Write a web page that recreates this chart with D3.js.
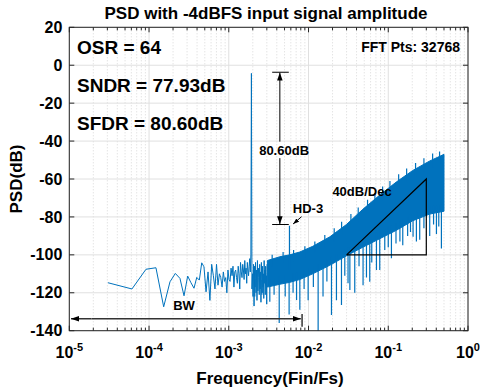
<!DOCTYPE html>
<html><head><meta charset="utf-8">
<script src="https://cdn.jsdelivr.net/npm/d3@7/dist/d3.min.js"></script>
<style>
body{margin:0;background:#fff}
text{font-family:"Liberation Sans",Arial,Helvetica,sans-serif;font-weight:bold;fill:#000}
</style>
</head><body>
<svg id="c" width="480" height="389"></svg>
<script>
// ---------------- data ----------------
const fftPts = 32768;
// PSD (dB) of FFT bins 1..99 (bin 63 = input tone)
const lowBinDb = [
 -114.7,-118,-107.6,-106.8,-127.4,-114.2,-109.8,-112.4,-121.6,-111.2,
 -114.7,-117.6,-111.9,-113.3,-104.2,-106.3,-119.5,
 -109,-124,-105,-111,-118,-105,-116,-110,-112,-117,-109,-114,-112,
 -120,-108,-113,-114,-107,-111,-106,-117,-109,-108,-112,-115,-106,-110,-118,
 -104,-109,-112,-105,-108,-113,-103,-110,-107,-115,-104,-108,-111,-106,-102,-109,-100,
 -4.3,
 -118,-110,-122,-105,-127,-106,-117,-104,-120,-108,-124,-103,-119,-107,-112,-121,-105,-118,-109,-125,
 -104,-113,-120,-106,-117,-110,-123,-103,-115,-108,-121,-106,-116,-111,-126,-105
];
// dense noise band above bin 100: frequency, upper and lower edge (dB)
const bandFreq   = [3.05e-3,4.37e-3,5.82e-3,7.77e-3,0.0113,0.0185,0.0299,0.0479,0.0781,0.127,0.203,0.331,0.5];
const bandTop    = [-103,-101,-100,-98.5,-95.5,-90.5,-84,-76,-68.5,-61.5,-55.5,-50.5,-47];
const bandBottom = [-117,-115.5,-114.5,-113,-110,-105.5,-100.5,-96,-91.5,-87,-82,-78.5,-77];
// downward spikes in the dense band
const dipFreq = [2.12e-3,2.60e-3,3.27e-3,3.7e-3,4.29e-3,5.1e-3,5.71e-3,6.4e-3,7.08e-3,7.78e-3,8.8e-3,9.89e-3,0.0115,0.0132,0.0152,0.017,0.0194,0.0224,0.0259,0.0285,0.0313,0.0330,0.0380,0.043,0.0483,0.0533,0.0586,0.0621,0.0711,0.0782,0.0904,0.1,0.1096,0.125,0.14,0.152,0.175,0.19,0.2047,0.2254,0.248,0.28,0.331,0.37,0.402,0.43,0.464];
const dipDb   = [-122,-121,-124.7,-121,-136,-122,-131.5,-120,-123.8,-129,-118,-124,-117,-142,-122,-114,-131.7,-124,-126.5,-111,-115,-118.6,-120,-106,-116,-112,-114.2,-104,-108,-108,-97.5,-96,-101.8,-94,-93,-95,-90,-88,-90.4,-93,-92,-86,-90,-84,-89,-85,-96.6];
// upward spikes on top of the band
const peakFreq = [3.5e-3,4.8e-3,6.5e-3,9.0e-3,0.012,0.016,0.021,0.026,0.034,0.042,0.055,0.068,0.085,0.105,0.135,0.17,0.22,0.28,0.36,0.44];
const peakDb   = [-100,-98.5,-97.5,-95.5,-93,-89.5,-86,-82.5,-78.5,-75,-71,-67.5,-64,-61,-57.5,-54.5,-51.5,-49,-46.5,-45.5];
// third harmonic
const hd3Bin = 189, hd3Db = -84.6;
// axes
const xDecades = [1e-5,1e-4,1e-3,1e-2,1e-1,1];
const xExpLabels = ["-5","-4","-3","-2","-1","0"];
const yTicks = [-140,-120,-100,-80,-60,-40,-20,0,20];

// ---------------- layout ----------------
const L=69.3, R=468, T=27.3, B=330.7;
const x = d3.scaleLog().domain([1e-5,1]).range([L,R]);
const y = d3.scaleLinear().domain([-140,20]).range([B,T]);
const svg = d3.select("#c");
const blue = "#0072BD";

const defs = svg.append("defs");
defs.append("clipPath").attr("id","clip").append("rect")
  .attr("x",L).attr("y",T).attr("width",R-L).attr("height",B-T);
function marker(id,size){
  defs.append("marker").attr("id",id).attr("viewBox","0 0 10 10")
    .attr("refX",10).attr("refY",5).attr("markerWidth",size).attr("markerHeight",size)
    .attr("markerUnits","userSpaceOnUse").attr("orient","auto")
    .append("path").attr("d","M0,1.5 L10,5 L0,8.5 Z").attr("fill","#000");
}
marker("ah",8); marker("ahs",6);

// minor values
const minors=[];
for(let e=-5;e<0;e++) for(let k=2;k<10;k++) minors.push(k*Math.pow(10,e));

// grid
const grid = svg.append("g");
grid.selectAll(".mg").data(minors).join("line")
  .attr("x1",d=>x(d)).attr("x2",d=>x(d)).attr("y1",T).attr("y2",B)
  .attr("stroke","#cfcfcf").attr("stroke-width",0.8).attr("stroke-dasharray","1,2");
grid.selectAll(".Mg").data(xDecades).join("line")
  .attr("x1",d=>x(d)).attr("x2",d=>x(d)).attr("y1",T).attr("y2",B)
  .attr("stroke","#e0e0e0").attr("stroke-width",1);
grid.selectAll(".yg").data(yTicks).join("line")
  .attr("x1",L).attr("x2",R).attr("y1",d=>y(d)).attr("y2",d=>y(d))
  .attr("stroke","#e0e0e0").attr("stroke-width",1);

// spectrum
const plot = svg.append("g").attr("clip-path","url(#clip)");
const lowPts = lowBinDb.map((d,i)=>[(i+1)/fftPts,d]);
plot.append("path").datum(lowPts)
  .attr("d",d3.line().x(d=>x(d[0])).y(d=>y(d[1])))
  .attr("fill","none").attr("stroke",blue).attr("stroke-width",1);
const band = bandFreq.map((f,i)=>({f,t:bandTop[i],b:bandBottom[i]}));
plot.append("path").datum(band)
  .attr("d",d3.area().x(d=>x(d.f)).y0(d=>y(d.b)).y1(d=>y(d.t)))
  .attr("fill",blue).attr("stroke",blue).attr("stroke-width",1);
const botAt = d3.scaleLog().domain(bandFreq).range(bandBottom).clamp(true);
const topAt = d3.scaleLog().domain(bandFreq).range(bandTop).clamp(true);
plot.selectAll(".dip").data(dipFreq).join("line")
  .attr("x1",d=>x(d)).attr("x2",d=>x(d))
  .attr("y1",d=>y(botAt(d)+4)).attr("y2",(d,i)=>y(dipDb[i]))
  .attr("stroke",blue).attr("stroke-width",1.2);
plot.selectAll(".pk").data(peakFreq).join("line")
  .attr("x1",d=>x(d)).attr("x2",d=>x(d))
  .attr("y1",d=>y(topAt(d)-4)).attr("y2",(d,i)=>y(peakDb[i]))
  .attr("stroke",blue).attr("stroke-width",1.2);
plot.append("line")
  .attr("x1",x(hd3Bin/fftPts)).attr("x2",x(hd3Bin/fftPts))
  .attr("y1",y(-108)).attr("y2",y(hd3Db))
  .attr("stroke",blue).attr("stroke-width",1.2);

// axes box & ticks
const ax = svg.append("g").attr("stroke","#262626").attr("fill","none");
ax.append("rect").attr("x",L).attr("y",T).attr("width",R-L).attr("height",B-T).attr("stroke-width",1);
function vt(vals,len){
  vals.forEach(v=>{
    ax.append("line").attr("x1",x(v)).attr("x2",x(v)).attr("y1",B).attr("y2",B-len);
    ax.append("line").attr("x1",x(v)).attr("x2",x(v)).attr("y1",T).attr("y2",T+len);
  });
}
vt(xDecades,5); vt(minors,3);
yTicks.forEach(v=>{
  ax.append("line").attr("x1",L).attr("x2",L+5).attr("y1",y(v)).attr("y2",y(v));
  ax.append("line").attr("x1",R).attr("x2",R-5).attr("y1",y(v)).attr("y2",y(v));
});

// tick labels
svg.selectAll(".yl").data(yTicks).join("text")
  .attr("x",L-7).attr("y",d=>y(d)).attr("dy","0.35em")
  .attr("text-anchor","end").attr("font-size",16).text(d=>d);
const xl = svg.selectAll(".xl").data(xDecades).join("text")
  .attr("x",d=>x(d)).attr("y",358).attr("text-anchor","middle").attr("font-size",16);
xl.append("tspan").text("10");
xl.append("tspan").attr("dy",-7).attr("font-size",11).text((d,i)=>xExpLabels[i]);

// titles
svg.append("text").attr("x",266).attr("y",19).attr("text-anchor","middle").attr("font-size",17)
  .text("PSD with -4dBFS input signal amplitude");
svg.append("text").attr("x",270).attr("y",384).attr("text-anchor","middle").attr("font-size",17)
  .text("Frequency(Fin/Fs)");
svg.append("text").attr("transform","translate(22,179) rotate(-90)").attr("text-anchor","middle").attr("font-size",17)
  .text("PSD(dB)");

// inside texts
svg.append("text").attr("x",77).attr("y",54).attr("font-size",19).text("OSR = 64");
svg.append("text").attr("x",77).attr("y",92).attr("font-size",19).text("SNDR = 77.93dB");
svg.append("text").attr("x",77).attr("y",130).attr("font-size",19).text("SFDR = 80.60dB");
svg.append("text").attr("x",460).attr("y",52).attr("text-anchor","end").attr("font-size",14).text("FFT Pts: 32768");

// SFDR annotation
const an = svg.append("g").attr("stroke","#000").attr("stroke-width",1).attr("fill","none");
const fA = 4.37e-3;
an.append("line").attr("x1",x(3.5e-3)).attr("x2",x(5.66e-3)).attr("y1",y(-3.7)).attr("y2",y(-3.7));
an.append("line").attr("x1",x(3.5e-3)).attr("x2",x(5.66e-3)).attr("y1",y(-84)).attr("y2",y(-84));
an.append("line").attr("x1",x(fA)).attr("x2",x(fA)).attr("y1",y(-40.3)).attr("y2",y(-3.9)).attr("marker-end","url(#ah)");
an.append("line").attr("x1",x(fA)).attr("x2",x(fA)).attr("y1",y(-49)).attr("y2",y(-83.8)).attr("marker-end","url(#ah)");
svg.append("text").attr("x",x(4.94e-3)).attr("y",y(-44.7)).attr("dy","0.35em").attr("text-anchor","middle").attr("font-size",13).text("80.60dB");
// HD-3
svg.append("text").attr("x",308).attr("y",y(-75.5)).attr("dy","0.35em").attr("text-anchor","middle").attr("font-size",13).text("HD-3");
an.append("line").attr("x1",x(8.17e-3)).attr("y1",y(-79.9)).attr("x2",x(6.41e-3)).attr("y2",y(-83.7)).attr("marker-end","url(#ahs)");
// slope triangle
an.append("path").attr("stroke-width",1.2)
  .attr("d",d3.line()([[x(0.03),y(-100)],[x(0.3),y(-100)],[x(0.3),y(-60)],[x(0.03),y(-100)]]));
svg.append("text").attr("x",362).attr("y",y(-66.5)).attr("dy","0.35em").attr("text-anchor","middle").attr("font-size",13).text("40dB/Dec");
// BW
const bw = svg.append("g").attr("stroke","#333").attr("stroke-width",1.5).attr("fill","none");
bw.append("line").attr("x1",x(1.9e-5)).attr("x2",x(1.05e-5)).attr("y1",y(-133.7)).attr("y2",y(-133.7)).attr("marker-end","url(#ah)");
bw.append("line").attr("x1",x(1.9e-5)).attr("x2",x(8.0e-3)).attr("y1",y(-133.7)).attr("y2",y(-133.7)).attr("marker-end","url(#ah)");
bw.append("line").attr("x1",x(8.3e-3)).attr("x2",x(8.3e-3)).attr("y1",y(-131.2)).attr("y2",y(-137.9)).attr("stroke","#000").attr("stroke-width",1.2);
svg.append("text").attr("x",184).attr("y",y(-126.5)).attr("dy","0.35em").attr("text-anchor","middle").attr("font-size",13).text("BW");
</script>
</body></html>
